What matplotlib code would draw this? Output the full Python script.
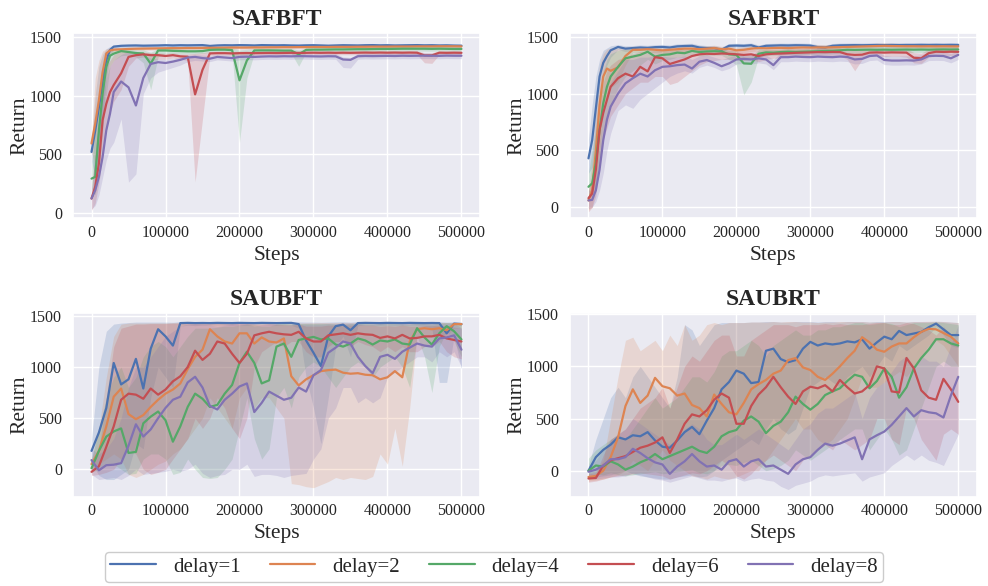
import matplotlib
matplotlib.use("Agg")
import matplotlib.pyplot as plt
import seaborn as sns

# Steps: finer grid at the start of the top panels, 10k grid elsewhere
STEPS_TOP = [0, 5000, 10000, 15000, 20000, 25000, 30000] + list(range(40000, 500001, 10000))
STEPS_BOT = list(range(0, 500001, 10000))

DELAYS = ["delay=1", "delay=2", "delay=4", "delay=6", "delay=8"]
TITLES = ["SAFBFT", "SAFBRT", "SAUBFT", "SAUBRT"]

# ---------------- SAFBFT ----------------
SAFBFT_MEAN = [
    [518, 700, 900, 1120, 1300, 1390, 1418,
     1425, 1427, 1428, 1426, 1427, 1428, 1430, 1428, 1430, 1429,
     1430, 1431, 1424, 1428, 1430, 1429, 1431, 1430, 1428, 1431,
     1430, 1429, 1430, 1428, 1427, 1429, 1430, 1428, 1426, 1428,
     1430, 1429, 1428, 1430, 1431, 1429, 1430, 1428, 1429, 1430,
     1431, 1429, 1430, 1428, 1429, 1427, 1426],
    [590, 760, 960, 1200, 1360, 1385, 1392,
     1395, 1398, 1400, 1401, 1402, 1403, 1404, 1405, 1405, 1406,
     1406, 1407, 1408, 1408, 1409, 1410, 1410, 1410, 1411, 1411,
     1412, 1412, 1413, 1413, 1414, 1414, 1415, 1415, 1415, 1416,
     1416, 1416, 1417, 1417, 1418, 1418, 1418, 1419, 1419, 1419,
     1420, 1420, 1420, 1421, 1421, 1421, 1420],
    [290, 305, 700, 1015, 1245, 1340, 1358,
     1380, 1372, 1363, 1360, 1272, 1385, 1385, 1382, 1380, 1378,
     1378, 1380, 1390, 1392, 1392, 1388, 1130, 1300, 1385, 1386,
     1386, 1385, 1384, 1384, 1352, 1390, 1392, 1392, 1393, 1394,
     1394, 1395, 1396, 1396, 1397, 1398, 1398, 1399, 1400, 1400,
     1400, 1400, 1399, 1400, 1399, 1398, 1398],
    [120, 220, 420, 790, 930, 1030, 1090,
     1190, 1330, 1345, 1352, 1345, 1345, 1338, 1345, 1335, 1332,
     1010, 1220, 1360, 1362, 1362, 1360, 1362, 1363, 1362, 1363,
     1364, 1363, 1364, 1365, 1364, 1365, 1366, 1365, 1366, 1365,
     1366, 1365, 1366, 1367, 1366, 1367, 1366, 1367, 1366, 1367,
     1366, 1343, 1343, 1366, 1365, 1366, 1365],
    [120, 190, 305, 475, 703, 845, 1030,
     1120, 1070, 915, 1150, 1270, 1285, 1278, 1290, 1305, 1325,
     1330, 1320, 1315, 1330, 1325, 1320, 1330, 1332, 1330, 1333,
     1335, 1334, 1336, 1335, 1337, 1336, 1335, 1334, 1336, 1335,
     1308, 1305, 1336, 1338, 1337, 1338, 1339, 1338, 1340, 1339,
     1340, 1341, 1340, 1339, 1341, 1340, 1340],
]
SAFBFT_LO = [
    [440, 300, 450, 800, 1150, 1330, 1395,
     1410, 1412, 1414, 1410, 1412, 1414, 1415, 1413, 1415, 1414,
     1415, 1416, 1405, 1413, 1415, 1414, 1416, 1415, 1413, 1416,
     1415, 1414, 1415, 1413, 1412, 1414, 1415, 1413, 1411, 1413,
     1415, 1414, 1413, 1415, 1416, 1414, 1415, 1413, 1414, 1415,
     1416, 1414, 1415, 1413, 1414, 1412, 1411],
    [520, 400, 600, 950, 1280, 1360, 1375,
     1380, 1384, 1386, 1387, 1388, 1389, 1390, 1391, 1391, 1392,
     1392, 1393, 1394, 1394, 1395, 1396, 1396, 1396, 1397, 1397,
     1398, 1398, 1399, 1399, 1400, 1400, 1401, 1401, 1401, 1402,
     1402, 1402, 1403, 1403, 1404, 1404, 1404, 1405, 1405, 1405,
     1406, 1406, 1406, 1407, 1407, 1407, 1406],
    [200, 150, 350, 700, 1000, 1250, 1300,
     1340, 1345, 1330, 1280, 1050, 1330, 1360, 1360, 1355, 1355,
     1355, 1360, 1370, 1370, 1370, 1360, 600, 1150, 1360, 1365,
     1365, 1365, 1362, 1360, 1250, 1370, 1372, 1372, 1373, 1374,
     1374, 1375, 1376, 1376, 1377, 1378, 1378, 1379, 1380, 1380,
     1380, 1380, 1379, 1380, 1379, 1378, 1378],
    [20, 80, 250, 500, 700, 850, 950,
     1050, 1250, 1320, 1330, 1300, 1310, 1310, 1320, 1310, 1300,
     262, 800, 1340, 1345, 1345, 1343, 1345, 1346, 1345, 1346,
     1347, 1346, 1347, 1348, 1347, 1348, 1349, 1348, 1349, 1348,
     1349, 1348, 1349, 1350, 1349, 1350, 1349, 1350, 1349, 1350,
     1349, 1280, 1275, 1349, 1348, 1349, 1348],
    [30, 60, 150, 300, 450, 550, 600,
     800, 260, 330, 1016, 1150, 1200, 1220, 1240, 1260, 1290,
     1300, 1295, 1290, 1305, 1300, 1295, 1305, 1307, 1305, 1308,
     1310, 1309, 1311, 1310, 1312, 1311, 1310, 1309, 1311, 1310,
     1240, 1235, 1311, 1313, 1312, 1313, 1314, 1313, 1315, 1314,
     1315, 1316, 1315, 1314, 1316, 1315, 1315],
]
SAFBFT_HI = [
    [600, 1000, 1250, 1350, 1400, 1420, 1432,
     1437, 1439, 1440, 1438, 1439, 1440, 1442, 1440, 1442, 1441,
     1442, 1443, 1436, 1440, 1442, 1441, 1443, 1442, 1440, 1443,
     1442, 1441, 1442, 1440, 1439, 1441, 1442, 1440, 1438, 1440,
     1442, 1441, 1440, 1442, 1443, 1441, 1442, 1440, 1441, 1442,
     1443, 1441, 1442, 1440, 1441, 1439, 1438],
    [660, 1150, 1300, 1380, 1400, 1405, 1408,
     1410, 1412, 1414, 1415, 1416, 1417, 1418, 1419, 1419, 1420,
     1420, 1421, 1422, 1422, 1423, 1424, 1424, 1424, 1425, 1425,
     1426, 1426, 1427, 1427, 1428, 1428, 1429, 1429, 1429, 1430,
     1430, 1430, 1431, 1431, 1432, 1432, 1432, 1433, 1433, 1433,
     1434, 1434, 1434, 1435, 1435, 1435, 1434],
    [400, 700, 1000, 1250, 1350, 1380, 1395,
     1400, 1395, 1390, 1390, 1370, 1400, 1402, 1400, 1398, 1396,
     1396, 1398, 1406, 1408, 1408, 1405, 1390, 1395, 1402, 1403,
     1403, 1402, 1401, 1401, 1390, 1406, 1408, 1408, 1409, 1410,
     1410, 1411, 1412, 1412, 1413, 1414, 1414, 1415, 1416, 1416,
     1416, 1416, 1415, 1416, 1415, 1414, 1414],
    [200, 500, 800, 1100, 1250, 1300, 1350,
     1380, 1380, 1370, 1370, 1365, 1365, 1360, 1365, 1355, 1355,
     1360, 1365, 1375, 1378, 1378, 1376, 1378, 1379, 1378, 1379,
     1380, 1379, 1380, 1381, 1380, 1381, 1382, 1381, 1382, 1381,
     1382, 1381, 1382, 1383, 1382, 1383, 1382, 1383, 1382, 1383,
     1382, 1365, 1365, 1382, 1381, 1382, 1381],
    [200, 500, 800, 1000, 1150, 1250, 1300,
     1350, 1380, 1380, 1350, 1320, 1310, 1310, 1315, 1325, 1345,
     1350, 1345, 1340, 1350, 1348, 1345, 1352, 1354, 1352, 1355,
     1357, 1356, 1358, 1357, 1359, 1358, 1357, 1356, 1358, 1357,
     1330, 1325, 1358, 1360, 1359, 1360, 1361, 1360, 1362, 1361,
     1362, 1363, 1362, 1361, 1363, 1362, 1362],
]

# ---------------- SAFBRT ----------------
SAFBRT_MEAN = [
    [430, 590, 870, 1150, 1270, 1330, 1380,
     1410, 1395, 1400, 1405, 1402, 1408, 1410, 1405, 1415, 1418,
     1420, 1405, 1400, 1400, 1385, 1420, 1422, 1420, 1425, 1405,
     1420, 1422, 1424, 1423, 1425, 1424, 1422, 1408, 1405, 1420,
     1424, 1425, 1426, 1425, 1426, 1427, 1426, 1427, 1426, 1427,
     1427, 1428, 1427, 1428, 1427, 1428, 1427],
    [60, 150, 500, 900, 1150, 1220, 1200,
     1230, 1330, 1385, 1385, 1390, 1385, 1380, 1385, 1390, 1395,
     1395, 1390, 1395, 1400, 1390, 1395, 1380, 1385, 1395, 1400,
     1398, 1400, 1402, 1400, 1403, 1405, 1404, 1406, 1405, 1407,
     1408, 1410, 1412, 1414, 1416, 1418, 1420, 1418, 1417, 1416,
     1416, 1415, 1416, 1415, 1416, 1415, 1415],
    [180, 210, 390, 680, 915, 1060, 1150,
     1235, 1310, 1325, 1340, 1368, 1325, 1340, 1345, 1360, 1355,
     1375, 1365, 1370, 1372, 1370, 1345, 1340, 1265, 1262, 1350,
     1362, 1360, 1365, 1368, 1366, 1368, 1370, 1372, 1374, 1376,
     1380, 1385, 1384, 1385, 1386, 1385, 1386, 1385, 1386, 1387,
     1386, 1387, 1386, 1387, 1388, 1387, 1388],
    [80, 120, 330, 680, 830, 945, 1060,
     1135, 1175, 1150, 1235, 1195, 1320, 1310, 1260, 1280, 1300,
     1330, 1345, 1350, 1348, 1352, 1350, 1345, 1340, 1345, 1330,
     1345, 1350, 1352, 1355, 1358, 1360, 1362, 1365, 1364, 1366,
     1365, 1345, 1340, 1342, 1360, 1362, 1360, 1362, 1361, 1360,
     1315, 1310, 1355, 1368, 1366, 1368, 1367],
    [60, 65, 150, 330, 590, 770, 885,
     1000, 1090, 1135, 1175, 1150, 1205, 1235, 1240, 1250, 1255,
     1220, 1280, 1295, 1270, 1240, 1265, 1300, 1305, 1300, 1310,
     1300, 1250, 1320, 1320, 1325, 1322, 1320, 1325, 1322, 1320,
     1325, 1322, 1300, 1305, 1330, 1335, 1295, 1290, 1290, 1292,
     1290, 1300, 1330, 1332, 1330, 1310, 1340],
]
SAFBRT_LO = [
    [300, 350, 600, 900, 1150, 1250, 1320,
     1385, 1370, 1378, 1383, 1380, 1386, 1388, 1383, 1393, 1396,
     1398, 1380, 1375, 1375, 1360, 1398, 1400, 1398, 1403, 1383,
     1398, 1400, 1402, 1401, 1403, 1402, 1400, 1386, 1383, 1398,
     1402, 1403, 1404, 1403, 1404, 1405, 1404, 1405, 1404, 1405,
     1405, 1406, 1405, 1406, 1405, 1406, 1405],
    [-20, 0, 200, 500, 850, 1000, 1050,
     1100, 1250, 1360, 1360, 1365, 1360, 1355, 1360, 1365, 1370,
     1370, 1365, 1370, 1375, 1365, 1370, 1355, 1360, 1370, 1375,
     1373, 1375, 1377, 1375, 1378, 1380, 1379, 1381, 1380, 1382,
     1383, 1385, 1387, 1389, 1391, 1393, 1395, 1393, 1392, 1391,
     1391, 1390, 1391, 1390, 1391, 1390, 1390],
    [80, 100, 200, 400, 600, 800, 900,
     1050, 1150, 1200, 1250, 1300, 1260, 1290, 1300, 1320, 1320,
     1340, 1330, 1335, 1338, 1336, 1300, 1250, 990, 1100, 1320,
     1335, 1335, 1340, 1343, 1341, 1343, 1345, 1347, 1349, 1351,
     1355, 1360, 1359, 1360, 1361, 1360, 1361, 1360, 1361, 1362,
     1361, 1362, 1361, 1362, 1363, 1362, 1363],
    [-40, 0, 100, 400, 600, 700, 800,
     900, 1000, 1050, 1100, 1100, 1150, 1150, 1080, 1100, 1150,
     1200, 1250, 1280, 1290, 1300, 1300, 1300, 1290, 1300, 1280,
     1300, 1310, 1315, 1320, 1325, 1328, 1330, 1333, 1332, 1334,
     1333, 1300, 1200, 1300, 1325, 1328, 1325, 1328, 1327, 1320,
     1270, 1265, 1320, 1335, 1333, 1335, 1334],
    [-10, 0, 50, 150, 300, 500, 650,
     850, 900, 870, 950, 1000, 1050, 1100, 1150, 1180, 1200,
     1180, 1230, 1250, 1230, 1200, 1220, 1260, 1265, 1260, 1270,
     1260, 1210, 1280, 1280, 1285, 1282, 1280, 1285, 1282, 1280,
     1285, 1282, 1260, 1265, 1290, 1295, 1255, 1250, 1250, 1252,
     1250, 1260, 1290, 1292, 1290, 1270, 1300],
]
SAFBRT_HI = [
    [600, 900, 1150, 1300, 1380, 1400, 1420,
     1430, 1420, 1422, 1427, 1424, 1430, 1432, 1427, 1437, 1440,
     1442, 1428, 1422, 1422, 1410, 1440, 1442, 1440, 1445, 1427,
     1440, 1442, 1444, 1443, 1445, 1444, 1442, 1430, 1427, 1440,
     1444, 1445, 1446, 1445, 1446, 1447, 1446, 1447, 1446, 1447,
     1447, 1448, 1447, 1448, 1447, 1448, 1447],
    [150, 400, 900, 1250, 1350, 1390, 1400,
     1400, 1410, 1410, 1410, 1415, 1410, 1405, 1410, 1415, 1420,
     1420, 1415, 1420, 1425, 1415, 1420, 1405, 1410, 1420, 1425,
     1423, 1425, 1427, 1425, 1428, 1430, 1429, 1431, 1430, 1432,
     1433, 1435, 1437, 1439, 1441, 1443, 1445, 1443, 1442, 1441,
     1441, 1440, 1441, 1440, 1441, 1440, 1440],
    [300, 500, 700, 1000, 1200, 1300, 1350,
     1380, 1390, 1390, 1395, 1400, 1380, 1390, 1390, 1395, 1395,
     1400, 1395, 1398, 1400, 1398, 1380, 1375, 1330, 1330, 1385,
     1390, 1388, 1392, 1395, 1393, 1395, 1397, 1399, 1401, 1403,
     1405, 1410, 1409, 1410, 1411, 1410, 1411, 1410, 1411, 1412,
     1411, 1412, 1411, 1412, 1413, 1412, 1413],
    [150, 250, 600, 950, 1100, 1200, 1250,
     1300, 1320, 1350, 1370, 1370, 1380, 1380, 1380, 1390, 1390,
     1395, 1400, 1400, 1395, 1398, 1396, 1392, 1390, 1392, 1380,
     1390, 1392, 1393, 1395, 1397, 1398, 1400, 1402, 1400, 1402,
     1400, 1385, 1380, 1382, 1395, 1397, 1395, 1397, 1396, 1395,
     1360, 1355, 1392, 1402, 1400, 1402, 1401],
    [150, 150, 300, 550, 850, 1000, 1100,
     1200, 1300, 1300, 1320, 1320, 1330, 1330, 1320, 1320, 1330,
     1300, 1330, 1340, 1320, 1300, 1320, 1340, 1345, 1340, 1350,
     1340, 1300, 1360, 1360, 1365, 1362, 1360, 1365, 1362, 1360,
     1365, 1362, 1340, 1345, 1370, 1375, 1335, 1330, 1330, 1332,
     1330, 1340, 1370, 1372, 1370, 1350, 1380],
]

# ---------------- SAUBFT ----------------
SAUBFT_MEAN = [
    [180, 360, 600, 1040, 830, 880, 1080, 790, 1180, 1370,
     1300, 1210, 1430, 1432, 1430, 1431, 1430, 1432, 1431, 1430,
     1432, 1431, 1430, 1432, 1431, 1430, 1431, 1432, 1420, 1260,
     1140, 1010, 1300, 1400, 1415, 1360, 1430, 1432, 1431, 1430,
     1432, 1431, 1430, 1432, 1431, 1430, 1431, 1430, 1330, 1425,
     1420],
    [50, 180, 420, 710, 790, 540, 490, 530, 610, 680,
     740, 780, 840, 980, 1100, 1170, 1370, 1300, 1250, 1230,
     1330, 1330, 1230, 1290, 1250, 1240, 1280, 910, 820, 880,
     920, 960, 970, 975, 945, 935, 940, 925, 920, 880,
     900, 960, 900, 1250, 1370, 1380, 1370, 1380, 1360, 1420,
     1420],
    [10, 180, 320, 370, 400, 160, 170, 450, 515, 565,
     480, 270, 420, 610, 740, 690, 610, 630, 740, 825,
     1040, 1150, 1040, 840, 870, 1200, 1230, 1100, 1265, 1280,
     1295, 1270, 1280, 1220, 1200, 1230, 1280, 1260, 1220, 1260,
     1250, 1270, 1230, 1220, 1380, 1290, 1220, 1330, 1400, 1350,
     1270],
    [-25, 30, 220, 420, 680, 740, 730, 690, 790, 730,
     780, 860, 910, 1000, 1160, 1070, 1130, 1250, 1230, 1130,
     1040, 1130, 1310, 1330, 1345, 1330, 1320, 1315, 1345, 1280,
     1250, 1250, 1310, 1320, 1330, 1315, 1330, 1320, 1315, 1285,
     1300, 1280, 1315, 1280, 1285, 1300, 1300, 1315, 1280, 1265,
     1250],
    [90, -10, 40, 45, 60, 230, 440, 320, 390, 500,
     600, 680, 710, 850, 905, 800, 620, 585, 680, 740,
     810, 840, 560, 650, 760, 720, 680, 700, 800, 760,
     920, 970, 1140, 1190, 1250, 1230, 1100, 1010, 940, 1100,
     1120, 1080, 1150, 1190, 1230, 1210, 1200, 1280, 1290, 1310,
     1170],
]
SAUBFT_LO = [
    [60, -60, -100, -100, -50, 0, 250, 200, 700, 1000,
     900, 800, 1400, 1410, 1405, 1410, 1408, 1410, 1409, 1408,
     1410, 1409, 1408, 1410, 1409, 1408, 1409, 1410, 1380, 900,
     600, 250, 700, 1200, 1300, 1100, 1405, 1410, 1409, 1408,
     1410, 1409, 1408, 1410, 1409, 1400, 1380, 850, 850, 1300,
     980],
    [0, 50, 100, 150, 100, -50, -80, -50, 0, 50,
     80, 150, 200, 300, 400, 500, 700, 600, 500, 400,
     700, 800, 600, 700, 700, 600, 500, -140, -150, -170,
     -180, -150, -120, -80, -100, -80, -90, -100, -70, 150,
     50, 400, 30, 600, 1300, 1320, 1300, 1320, 1300, 1380,
     1380],
    [-30, 0, 50, 50, 0, -50, -40, 100, 150, 150,
     100, -50, -30, 100, 0, -80, -90, -80, 0, 100,
     400, 700, 300, 100, 200, 700, 800, 600, 900, 1000,
     1050, 1000, 900, 800, 900, 1000, 1050, 1000, 900, 1000,
     1050, 1100, 1000, 800, 1300, 1100, 750, 1200, 1350, 1250,
     1100],
    [-60, -50, -30, 0, 100, 200, 150, 0, -50, -30,
     0, 100, 200, 300, 500, 400, 500, 700, 600, 400,
     300, 500, 1000, 1150, 1200, 1250, 1200, 1250, 1250, 1150,
     1100, 1100, 1200, 1250, 1250, 1200, 1250, 1220, 1200, 1150,
     1200, 1150, 1200, 1150, 1150, 1200, 1200, 1250, 1150, 1100,
     1080],
    [-50, -100, -90, -80, -100, -60, 0, -50, -40, -30,
     -20, 0, -20, 0, 50, -40, -80, -60, -50, 0,
     0, 50, -70, -50, -50, -60, -80, -60, -50, -40,
     100, 200, 500, 600, 800, 800, 650, 700, 650, 700,
     900, 950, 1000, 1050, 1100, 1100, 1050, 1150, 1100, 1150,
     1000],
]
SAUBFT_HI = [
    [300, 1000, 1350, 1420, 1430, 1435, 1440, 1440, 1440, 1440,
     1440, 1438, 1445, 1446, 1445, 1446, 1445, 1446, 1445, 1445,
     1446, 1445, 1445, 1446, 1445, 1445, 1446, 1446, 1442, 1440,
     1440, 1438, 1440, 1442, 1444, 1440, 1446, 1446, 1445, 1445,
     1446, 1445, 1445, 1446, 1445, 1445, 1446, 1445, 1440, 1442,
     1440],
    [100, 400, 900, 1300, 1420, 1430, 1430, 1430, 1432, 1432,
     1432, 1433, 1434, 1435, 1436, 1436, 1437, 1437, 1436, 1436,
     1437, 1437, 1436, 1437, 1436, 1436, 1437, 1435, 1430, 1432,
     1433, 1434, 1434, 1435, 1434, 1434, 1435, 1434, 1434, 1432,
     1433, 1434, 1433, 1435, 1435, 1436, 1436, 1436, 1435, 1437,
     1437],
    [100, 400, 700, 900, 1000, 800, 900, 1100, 1200, 1250,
     1200, 1100, 1200, 1300, 1380, 1380, 1380, 1390, 1400, 1400,
     1410, 1420, 1410, 1400, 1400, 1420, 1425, 1420, 1425, 1425,
     1425, 1425, 1425, 1420, 1420, 1425, 1425, 1425, 1420, 1425,
     1425, 1425, 1420, 1420, 1430, 1425, 1420, 1430, 1435, 1430,
     1430],
    [50, 200, 700, 1200, 1380, 1400, 1420, 1420, 1425, 1425,
     1425, 1430, 1430, 1430, 1432, 1432, 1432, 1433, 1433, 1432,
     1430, 1432, 1420, 1420, 1425, 1420, 1415, 1410, 1420, 1400,
     1400, 1400, 1410, 1410, 1415, 1410, 1415, 1410, 1410, 1400,
     1405, 1400, 1410, 1400, 1400, 1405, 1405, 1410, 1400, 1390,
     1380],
    [200, 150, 200, 300, 500, 800, 1000, 1000, 1100, 1200,
     1300, 1350, 1400, 1420, 1420, 1420, 1410, 1400, 1410, 1420,
     1420, 1420, 1400, 1410, 1415, 1415, 1410, 1415, 1420, 1420,
     1420, 1420, 1425, 1425, 1430, 1430, 1425, 1420, 1420, 1425,
     1425, 1420, 1425, 1425, 1430, 1430, 1425, 1430, 1430, 1430,
     1380],
]

# ---------------- SAUBRT ----------------
SAUBRT_MEAN = [
    [0, 130, 200, 250, 320, 300, 340, 330, 370, 290,
     230, 220, 290, 370, 420, 350, 480, 600, 780, 850,
     960, 930, 840, 850, 1150, 1170, 1070, 1040, 1060, 1170,
     1235, 1200, 1220, 1210, 1220, 1240, 1230, 1260, 1170, 1230,
     1285, 1260, 1340, 1300, 1315, 1330, 1375, 1410, 1355, 1300,
     1300],
    [-60, -50, 0, 130, 320, 620, 780, 650, 720, 890,
     810, 790, 720, 740, 630, 600, 520, 730, 640, 560,
     540, 650, 780, 830, 870, 930, 960, 1060, 1080, 990,
     965, 900, 870, 930, 1000, 1080, 1150, 1280, 1230, 1160,
     1140, 1190, 1220, 1220, 1280, 1330, 1360, 1355, 1320, 1285,
     1220],
    [0, 50, 40, 90, 60, 10, 40, 80, 110, 160,
     110, 140, 170, 200, 230, 190, 170, 230, 330, 370,
     390, 480, 520, 470, 360, 430, 470, 560, 710, 640,
     585, 640, 725, 760, 790, 860, 920, 900, 790, 860,
     980, 900, 700, 800, 980, 1080, 1160, 1260, 1260, 1220,
     1200],
    [-75, -70, 50, 100, 120, 140, 180, 220, 240, 270,
     320, 170, 300, 450, 540, 520, 580, 680, 740, 700,
     450, 450, 620, 730, 800, 900, 800, 710, 640, 760,
     805, 790, 820, 760, 870, 800, 740, 760, 820, 1000,
     980, 760, 750, 1080, 980, 770, 700, 680, 880, 780,
     660],
    [-10, 10, 50, 110, 110, 130, 210, 170, 120, 80,
     60, -30, 40, 90, 160, 90, 40, 50, 10, 90,
     110, 40, 90, 110, 40, 50, 10, -30, 60, 110,
     130, 200, 260, 240, 260, 290, 320, 110, 300, 340,
     375, 440, 520, 600, 520, 580, 560, 550, 510, 720,
     900],
]
SAUBRT_LO = [
    [-50, -60, -50, -40, -20, 0, -30, -50, -60, -70,
     -80, -80, -60, -50, -40, -60, -50, 0, 100, 150,
     200, 250, 300, 250, 400, 500, 400, 350, 400, 600,
     800, 850, 900, 850, 800, 900, 950, 1000, 900, 1000,
     1100, 1050, 1200, 1150, 1200, 1250, 1300, 1380, 1300, 1200,
     1180],
    [-100, -90, -80, -60, -40, 0, 100, 50, 0, 100,
     200, 100, 50, 0, -50, -60, -80, -50, -70, -80,
     -60, -30, 0, 0, 100, 200, 300, 400, 500, 400,
     400, 300, 250, 300, 400, 500, 700, 900, 800, 800,
     850, 900, 950, 900, 1000, 1100, 1200, 1250, 1200, 1100,
     1000],
    [-40, -30, -40, -20, -40, -50, -40, -30, -20, -10,
     -30, -20, -10, 0, 10, -20, -30, 0, 50, 60,
     50, 80, 100, 50, 0, 20, 50, 100, 200, 150,
     100, 150, 200, 250, 300, 350, 400, 400, 200, 300,
     400, 300, 150, 200, 400, 600, 800, 1000, 1050, 1000,
     1000],
    [-110, -100, -80, -60, -50, -40, -30, -20, -30, -40,
     -50, -80, -60, -40, -20, -30, 0, 50, 100, 50,
     -50, -80, -30, 50, 100, 150, 100, 50, 0, 100,
     150, 200, 250, 200, 300, 250, 200, 250, 300, 500,
     500, 300, 250, 600, 500, 300, 200, 100, 350, 400,
     350],
    [-60, -80, -70, -60, -60, -50, -20, -40, -60, -80,
     -90, -110, -90, -70, -50, -70, -90, -90, -100, -80,
     -70, -100, -80, -70, -90, -100, -150, -180, -140, -120,
     -100, -60, -40, -50, -40, -30, -20, -100, -60, -40,
     -20, 50, 100, 150, 100, 150, 100, 80, 50, 200,
     350],
]
SAUBRT_HI = [
    [50, 300, 500, 700, 800, 700, 900, 1000, 900, 800,
     700, 600, 900, 1400, 1350, 1200, 1300, 1400, 1420, 1420,
     1420, 1420, 1425, 1425, 1430, 1430, 1425, 1425, 1430, 1430,
     1430, 1425, 1430, 1430, 1425, 1430, 1430, 1430, 1425, 1430,
     1430, 1430, 1430, 1425, 1430, 1430, 1430, 1432, 1430, 1425,
     1420],
    [-20, 0, 100, 500, 900, 1250, 1280, 1150, 1200, 1250,
     1150, 1300, 1200, 1400, 1250, 1300, 1400, 1420, 1400, 1420,
     1420, 1420, 1425, 1425, 1425, 1430, 1425, 1430, 1430, 1425,
     1425, 1420, 1425, 1425, 1430, 1430, 1430, 1430, 1425, 1425,
     1425, 1430, 1430, 1425, 1430, 1430, 1432, 1432, 1430, 1425,
     1420],
    [120, 200, 250, 300, 350, 300, 400, 500, 600, 700,
     600, 650, 700, 800, 900, 900, 850, 950, 1100, 1150,
     1150, 1200, 1250, 1200, 1100, 1200, 1250, 1300, 1350, 1300,
     1300, 1350, 1350, 1380, 1380, 1400, 1420, 1420, 1400, 1410,
     1420, 1410, 1380, 1400, 1420, 1420, 1420, 1425, 1420, 1410,
     1400],
    [-30, -20, 150, 300, 350, 400, 500, 600, 650, 700,
     800, 600, 800, 1000, 1100, 1050, 1150, 1250, 1300, 1300,
     1100, 1100, 1250, 1300, 1350, 1400, 1400, 1400, 1380, 1400,
     1400, 1400, 1410, 1400, 1410, 1400, 1400, 1400, 1410, 1420,
     1420, 1400, 1400, 1420, 1410, 1380, 1350, 1300, 1380, 1300,
     1200],
    [40, 100, 200, 300, 350, 400, 500, 450, 400, 350,
     300, 250, 300, 400, 450, 400, 300, 250, 250, 300,
     350, 300, 350, 400, 350, 300, 250, 200, 300, 400,
     450, 550, 600, 600, 650, 700, 750, 500, 700, 800,
     850, 950, 1050, 1100, 1000, 1100, 1050, 1050, 1000, 1200,
     1400],
]

PANELS = [
    (SAFBFT_MEAN, SAFBFT_LO, SAFBFT_HI, STEPS_TOP),
    (SAFBRT_MEAN, SAFBRT_LO, SAFBRT_HI, STEPS_TOP),
    (SAUBFT_MEAN, SAUBFT_LO, SAUBFT_HI, STEPS_BOT),
    (SAUBRT_MEAN, SAUBRT_LO, SAUBRT_HI, STEPS_BOT),
]
YLIMS = [(-49, 1532), (-97, 1530), (-268, 1526), (-249, 1509)]

sns.set_theme(style="darkgrid")
plt.rcParams["font.family"] = ["Liberation Serif", "DejaVu Serif"]
colors = sns.color_palette("deep", 5)

fig = plt.figure(figsize=(9.88, 5.86), dpi=100)
# axes rectangles in figure fraction
rects = [
    (0.0739, 0.6275, 0.4119, 0.3157),
    (0.5769, 0.6275, 0.4117, 0.3157),
    (0.0739, 0.1524, 0.4119, 0.3130),
    (0.5769, 0.1524, 0.4117, 0.3130),
]

handles = []
for k, (mean, lo, hi, steps) in enumerate(PANELS):
    ax = fig.add_axes(rects[k])
    for i in range(5):
        ax.fill_between(steps, lo[i], hi[i], color=colors[i], alpha=0.2, linewidth=0)
        (ln,) = ax.plot(steps, mean[i], color=colors[i], lw=1.6, label=DELAYS[i])
        if k == 0:
            handles.append(ln)
    ax.set_xlim(-25000, 525000)
    ax.set_ylim(*YLIMS[k])
    ax.set_xticks([0, 100000, 200000, 300000, 400000, 500000])
    ax.set_yticks([0, 500, 1000, 1500])
    ax.tick_params(labelsize=11.5)
    ax.tick_params(axis="x", pad=-1.5)
    ax.tick_params(axis="y", pad=2)
    ax.set_title(TITLES[k], fontsize=17, fontweight="bold", pad=6)
    ax.set_xlabel("Steps", fontsize=15.5, labelpad=3.6)
    ax.set_ylabel("Return", fontsize=15.5, labelpad=0)

leg = fig.legend(handles, DELAYS, loc="lower center", bbox_to_anchor=(0.5, 0.0),
                 ncol=5, fontsize=15, handlelength=2.2, columnspacing=1.4,
                 borderpad=0.25, borderaxespad=0.2,
                 frameon=True, facecolor="white", edgecolor="#cccccc", framealpha=1)

fig.savefig("out.png", dpi=100)
